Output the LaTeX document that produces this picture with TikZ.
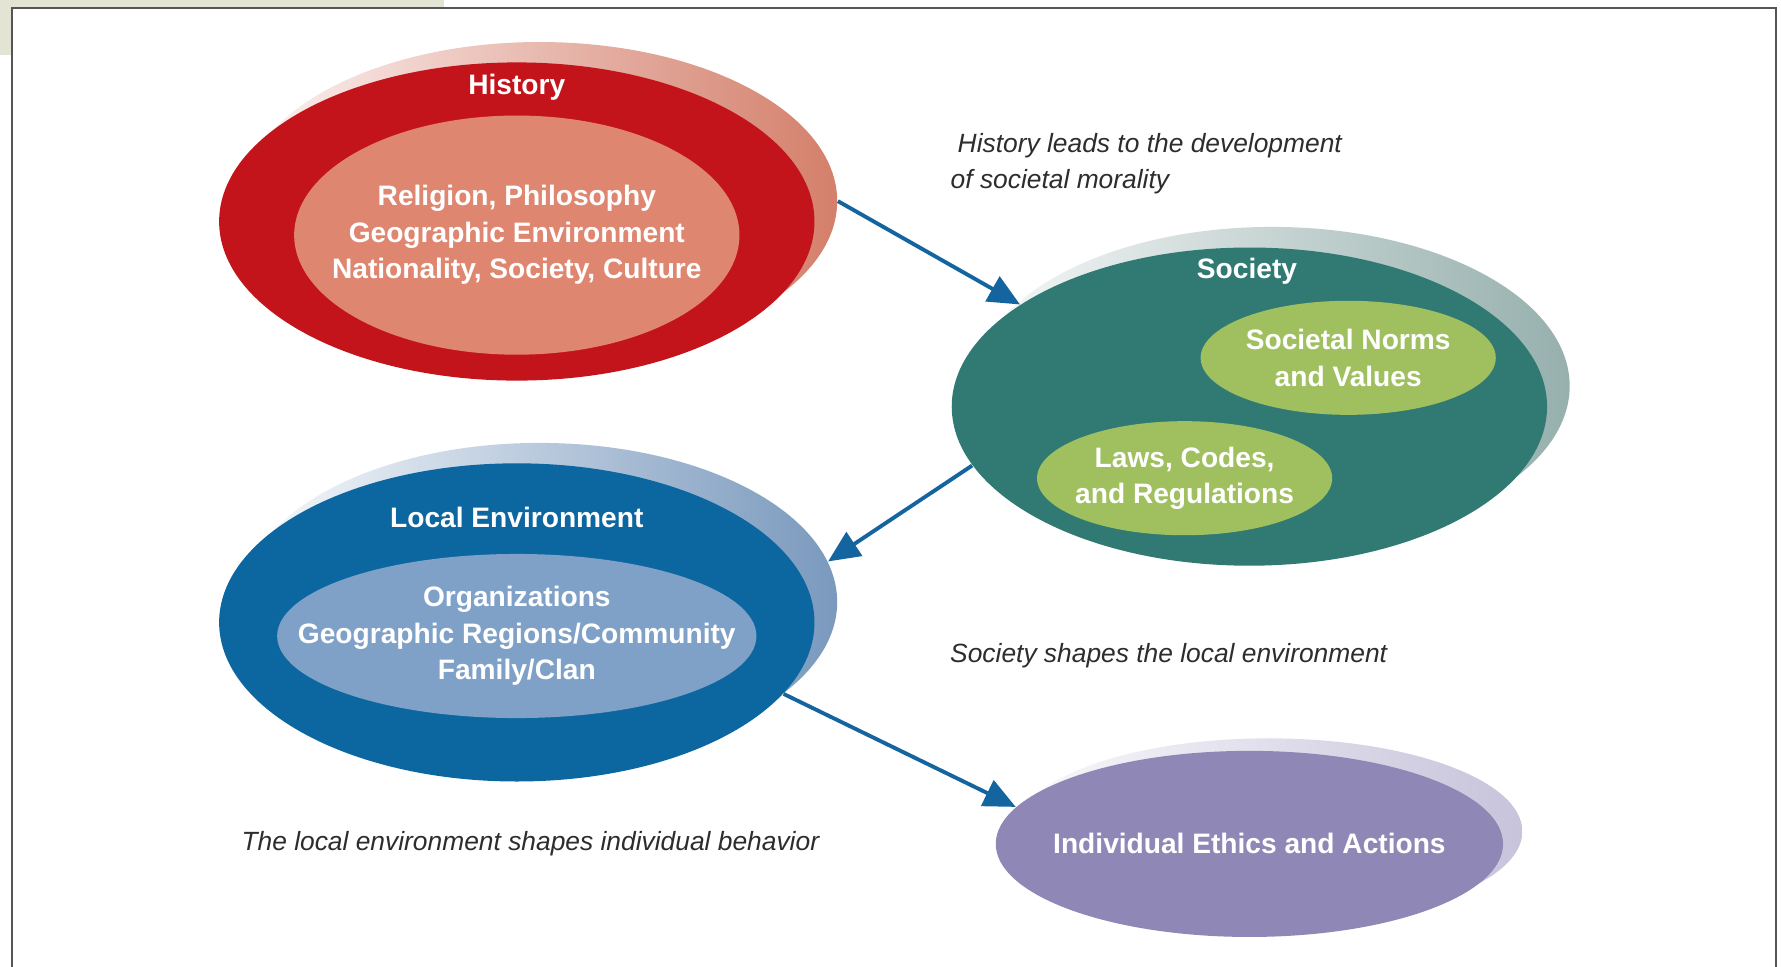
\documentclass[tikz,border=0pt]{standalone}
\usepackage{xcolor}
\usepackage{fontspec}
\setmainfont{Liberation Sans}
\usepackage{tikz}
\usetikzlibrary{shapes,arrows.meta,positioning,shadings}
\definecolor{histred}{RGB}{196,20,27}
\definecolor{histpink}{RGB}{223,134,112}
\definecolor{socteal}{RGB}{49,122,116}
\definecolor{socgreen}{RGB}{160,192,96}
\definecolor{locblue}{RGB}{12,103,160}
\definecolor{loclight}{RGB}{128,161,199}
\definecolor{indpurple}{RGB}{143,136,183}
\definecolor{flowblue}{RGB}{20,100,160}
\definecolor{notegrey}{RGB}{45,45,45}
\definecolor{framegrey}{RGB}{85,85,85}
\definecolor{tabbeige}{RGB}{228,228,212}
\definecolor{socshade}{RGB}{150,176,173}
\tikzset{
    oval/.style={ellipse, inner sep=0pt},
    bigoval/.style={oval, minimum width=5.95cm, minimum height=3.18cm},
    ovallabel/.style={text=white, inner sep=0pt, align=center,
        font=\bfseries\fontsize{8}{10.4}\selectfont},
    note/.style={text=notegrey, inner sep=0pt, anchor=west, align=left,
        font=\itshape\fontsize{7.5}{10.3}\selectfont},
    flow/.style={draw=flowblue, line width=1.1pt, -{Triangle[length=9pt,width=8pt]}}
}

\begin{document}
\begin{tikzpicture}[x=0.01cm, y=-0.01cm]
        \useasboundingbox (0,0) rectangle (1781,966);
        % page frame
        \fill[tabbeige] (0,0) rectangle (444,55);
        \fill[white] (12,8) rectangle (1776,990);
        \draw[framegrey, line width=0.8pt] (12,990) -- (12,8) -- (1776,8) -- (1776,990);

        % history
        \node[bigoval, left color=histred!5, right color=histpink!95!black] (histback) at (539.5,201.1) {};
        \node[bigoval, fill=histred] (hist) at (516.8,221.5) {};
        \node[ovallabel] (histlbl) at (516.8,87.5) {History};
        \node[oval, fill=histpink, minimum width=4.45cm, minimum height=2.39cm,
            label={[ovallabel]center:Religion, Philosophy\\Geographic Environment\\Nationality, Society, Culture}]
            (histin) at (516.8,235.1) {};

        % society
        \node[bigoval, left color=socshade!8, right color=socshade] (socback) at (1272,386) {};
        \node[bigoval, fill=socteal] (soc) at (1249.4,406.6) {};
        \node[ovallabel] (soclbl) at (1247,271.5) {Society};
        \node[oval, fill=socgreen, minimum width=2.95cm, minimum height=1.14cm,
            label={[ovallabel]center:Societal Norms\\and Values}] (norms) at (1348.2,357.8) {};
        \node[oval, fill=socgreen, minimum width=2.95cm, minimum height=1.14cm,
            label={[ovallabel]center:Laws, Codes,\\and Regulations}] (laws) at (1184.6,478.2) {};

        % local environment
        \node[bigoval, left color=loclight!5, right color=loclight!95!black] (locback) at (539.5,602) {};
        \node[bigoval, fill=locblue] (loc) at (516.8,622.4) {};
        \node[ovallabel] (loclbl) at (516.8,517.9) {Local Environment};
        \node[oval, fill=loclight, minimum width=4.79cm, minimum height=1.64cm,
            label={[ovallabel]center:Organizations\\Geographic Regions/Community\\Family/Clan}]
            (locin) at (516.8,636) {};

        % individual
        \node[oval, minimum width=5.07cm, minimum height=1.86cm,
            left color=indpurple!5, right color=indpurple!50] (indback) at (1268.7,831.4) {};
        \node[oval, fill=indpurple, minimum width=5.07cm, minimum height=1.86cm,
            label={[ovallabel]center:Individual Ethics and Actions}] (ind) at (1249.4,843.9) {};

        % notes
        \node[note] (note1) at (950,163.6) {\hspace{2pt}History leads to the development\\of societal morality};
        \node[note] (note2) at (949.5,655.4) {Society shapes the local environment};
        \node[note] (note3) at (240.8,843.9) {The local environment shapes individual behavior};

        \draw[flow] (histback.east) -- (soc.156);
        \draw[flow] (soc.192) -- (locback.8);
        \draw[flow] (loc.-15) -- (ind.171);
    \end{tikzpicture}
\end{document}
